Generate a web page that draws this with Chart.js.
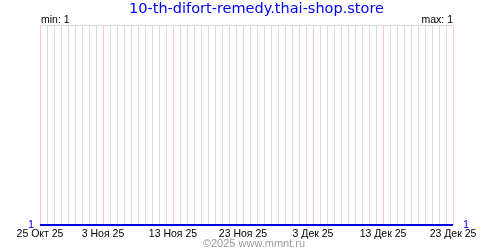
<!DOCTYPE html>
<html><head><meta charset="utf-8">
<script src="https://cdn.jsdelivr.net/npm/chart.js@4/dist/chart.umd.min.js"></script>
<style>html,body{margin:0;padding:0;background:#fff}#w{width:500px;height:250px}</style>
</head><body><div id="w"><canvas id="c" width="500" height="250"></canvas></div>
<script>
const titleText = "10-th-difort-remedy.thai-shop.store";
const copyrightText = "©2025 www.mmnt.ru";
const categories = [
 "25 Окт 25","26 Окт 25","27 Окт 25","28 Окт 25","29 Окт 25","30 Окт 25","31 Окт 25",
 "1 Ноя 25","2 Ноя 25","3 Ноя 25","4 Ноя 25","5 Ноя 25","6 Ноя 25","7 Ноя 25","8 Ноя 25","9 Ноя 25","10 Ноя 25",
 "11 Ноя 25","12 Ноя 25","13 Ноя 25","14 Ноя 25","15 Ноя 25","16 Ноя 25","17 Ноя 25","18 Ноя 25","19 Ноя 25","20 Ноя 25",
 "21 Ноя 25","22 Ноя 25","23 Ноя 25","24 Ноя 25","25 Ноя 25","26 Ноя 25","27 Ноя 25","28 Ноя 25","29 Ноя 25","30 Ноя 25",
 "1 Дек 25","2 Дек 25","3 Дек 25","4 Дек 25","5 Дек 25","6 Дек 25","7 Дек 25","8 Дек 25","9 Дек 25","10 Дек 25",
 "11 Дек 25","12 Дек 25","13 Дек 25","14 Дек 25","15 Дек 25","16 Дек 25","17 Дек 25","18 Дек 25","19 Дек 25","20 Дек 25",
 "21 Дек 25","22 Дек 25","23 Дек 25"
];
const values = [
 1,1,1,1,1,1,1,
 1,1,1,1,1,1,1,1,1,1,
 1,1,1,1,1,1,1,1,1,1,
 1,1,1,1,1,1,1,1,1,1,
 1,1,1,1,1,1,1,1,1,1,
 1,1,1,1,1,1,1,1,1,1,
 1,1,1
];
const tickLabels = ["25 Окт 25","3 Ноя 25","13 Ноя 25","23 Ноя 25","3 Дек 25","13 Дек 25","23 Дек 25"];
const minValue = 1;
const maxValue = 1;

const TFONT = "'DejaVu Sans', Verdana, sans-serif";
const FONT = "'Liberation Sans', Arial, sans-serif";

const textPlugin = {
  id: 'texts',
  afterDraw(chart) {
    const ctx = chart.ctx, a = chart.chartArea;
    ctx.save();
    ctx.fillStyle = '#0000ff';
    ctx.font = '14.5px ' + TFONT;
    ctx.textAlign = 'center';
    ctx.textBaseline = 'alphabetic';
    ctx.fillText(titleText, 256.5, 13);
    ctx.fillStyle = '#000';
    ctx.font = '10.5px ' + FONT;
    ctx.textAlign = 'left';
    ctx.fillText('min: ' + minValue, a.left + 1, 23);
    ctx.textAlign = 'right';
    ctx.fillText('max: ' + maxValue, a.right, 23);
    ctx.fillStyle = '#999';
    ctx.font = '11px ' + FONT;
    ctx.textAlign = 'center';
    ctx.fillText(copyrightText, 254, 247);
    ctx.restore();
  }
};

new Chart(document.getElementById('c'), {
  type: 'line',
  data: {
    labels: categories,
    datasets: [{
      data: values,
      borderColor: '#0000e0',
      borderWidth: 2,
      pointRadius: 0,
      tension: 0,
      fill: false,
      clip: false
    }]
  },
  options: {
    responsive: false,
    animation: false,
    devicePixelRatio: 1,
    layout: { padding: { top: 25, bottom: 0, left: 0, right: 0 } },
    plugins: { legend: { display: false }, tooltip: { enabled: false }, title: { display: false } },
    scales: {
      x: {
        type: 'category',
        offset: false,
        border: { display: false },
        grid: {
          drawTicks: false,
          lineWidth: 1,
          color: (c) => tickLabels.includes(categories[c.index]) ? '#ffc8c8' : '#dcdcdc'
        },
        ticks: {
          autoSkip: false, maxRotation: 0, minRotation: 0, padding: 3,
          color: '#000', font: { family: FONT, size: 10.5 },
          callback: (v, i) => tickLabels.includes(categories[i]) ? categories[i] : ''
        },
        afterFit: (s) => { s.height = 25; }
      },
      y: {
        position: 'left', min: 1, max: 2,
        border: { display: false },
        grid: { drawTicks: false, color: (c) => c.tick.value === 2 ? '#dcdcdc' : 'rgba(0,0,0,0)' },
        ticks: { stepSize: 1, padding: 6, color: '#0000ff', font: { family: FONT, size: 11 },
          callback: (v) => v === 1 ? String(v) : '' },
        afterFit: (s) => { s.width = 40; }
      },
      y2: {
        position: 'right', min: 1, max: 2,
        border: { display: false },
        grid: { display: false, drawTicks: false },
        ticks: { stepSize: 1, padding: 10, color: '#0000ff', font: { family: FONT, size: 11 },
          callback: (v) => v === 1 ? String(v) : '' },
        afterFit: (s) => { s.width = 47; }
      }
    }
  },
  plugins: [textPlugin]
});
</script>
</body></html>
